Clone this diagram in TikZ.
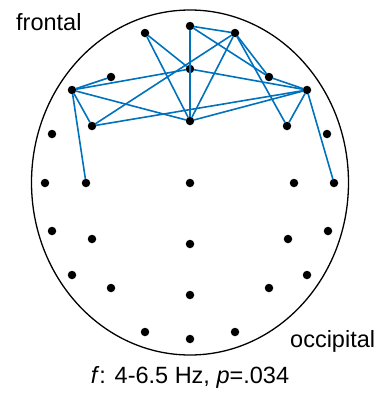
\documentclass[tikz,border=0pt]{standalone}
\usepackage{fontspec}
\setmainfont{Liberation Sans}
\usepackage{tikz}
\definecolor{linkblue}{RGB}{0,114,189}
\tikzset{
  elec/.style={circle, fill=black, inner sep=0pt, minimum size=8.5pt},
  link/.style={linkblue, line width=1.6pt},
  lbl/.style={font=\fontsize{23.5}{26}\selectfont, inner sep=0pt}
}

\begin{document}
\begin{tikzpicture}[x=1pt, y=-1pt, line join=round, line cap=round]
\useasboundingbox (0,0) rectangle (380,399);
\draw[line width=1.3pt] (190,182.5) ellipse [x radius=158.5, y radius=172.5];
% electrodes
\node[elec] (Fp1) at (145,33) {};
\node[elec] (Fpz) at (190,26) {};
\node[elec] (Fp2) at (235,33) {};
\node[elec] (AF3) at (111,77) {};
\node[elec] (AFz) at (190,69) {};
\node[elec] (AF4) at (269,77) {};
\node[elec] (F7) at (72,90) {};
\node[elec] (F8) at (307,90) {};
\node[elec] (F3) at (92,126) {};
\node[elec] (Fz) at (190,121) {};
\node[elec] (F4) at (287,126) {};
\node[elec] (FT7) at (52,134) {};
\node[elec] (FT8) at (327,134) {};
\node[elec] (T7) at (45,183) {};
\node[elec] (C3) at (86,183) {};
\node[elec] (Cz) at (190,183) {};
\node[elec] (C4) at (294,183) {};
\node[elec] (T8) at (334,183) {};
\node[elec] (TP7) at (52,231) {};
\node[elec] (CP3) at (92,239) {};
\node[elec] (CPz) at (190,244) {};
\node[elec] (CP4) at (288,239) {};
\node[elec] (TP8) at (328,231) {};
\node[elec] (P7) at (72,275) {};
\node[elec] (P3) at (111,288) {};
\node[elec] (Pz) at (190,295) {};
\node[elec] (P4) at (269,288) {};
\node[elec] (P8) at (307,275) {};
\node[elec] (O1) at (145,332) {};
\node[elec] (Oz) at (190,339) {};
\node[elec] (O2) at (235,332) {};
% significant links
\draw[link] (Fpz) -- (Fp2);
\draw[link] (Fpz) -- (Fz);
\draw[link] (Fpz) -- (AF4);
\draw[link] (Fp2) -- (AF4);
\draw[link] (Fp2) -- (F4);
\draw[link] (Fp2) -- (Fz);
\draw[link] (Fp2) -- (F3);
\draw[link] (Fp1) -- (AFz);
\draw[link] (Fp1) -- (Fz);
\draw[link] (F7) -- (AF3);
\draw[link] (F7) -- (AFz);
\draw[link] (F7) -- (Fz);
\draw[link] (F7) -- (F3);
\draw[link] (F7) -- (C3);
\draw[link] (F3) -- (F8);
\draw[link] (Fz) -- (F8);
\draw[link] (AFz) -- (F8);
\draw[link] (AF4) -- (F8);
\draw[link] (F8) -- (F4);
\draw[link] (F8) -- (T8);
% labels
\node[lbl, anchor=base west] (front) at (16,30) {frontal};
\node[lbl, anchor=base west] (back) at (290,347) {occipital};
\node[lbl, anchor=base] (cap) at (190,383) {\textit{f}: 4-6.5 Hz, \textit{p}=.034};
\end{tikzpicture}
\end{document}
